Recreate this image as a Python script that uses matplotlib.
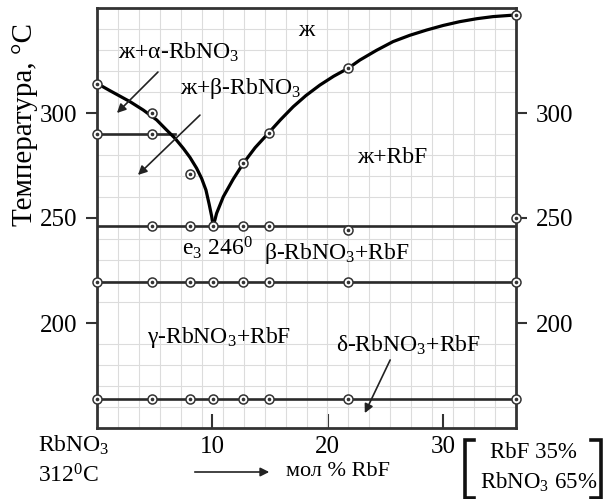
import numpy as np
import matplotlib
matplotlib.use("Agg")
import matplotlib.pyplot as plt
from matplotlib.ticker import MultipleLocator

plt.rcParams['font.family'] = ['Liberation Serif', 'DejaVu Serif']
plt.rcParams['mathtext.fontset'] = 'custom'
plt.rcParams['mathtext.rm'] = 'Liberation Serif'
plt.rcParams['mathtext.it'] = 'Liberation Serif'
plt.rcParams['mathtext.default'] = 'rm'

# liquidus curves (mol % RbF, temperature)
left_liq_x = [0, 1.13, 2.86, 4.01, 5.17, 6.03, 6.75, 7.47, 8.05, 8.63, 9.06, 9.44, 9.72, 9.93, 10.07]
left_liq_y = [314.1, 310.6, 305.4, 301.4, 296.7, 291.9, 288.0, 283.2, 278.9, 273.7, 268.9, 263.3, 256.5, 250.9, 246.0]
right_liq_x = [10.07, 10.36, 10.94, 11.8, 12.67, 13.7, 14.83, 15.9, 17.0, 18.1, 19.31, 20.5, 21.76, 22.77, 24.2,
               25.65, 27.1, 28.55, 30.0, 31.43, 32.9, 34.31, 36.3]
right_liq_y = [246.0, 252.2, 260.1, 268.5, 276.0, 283.5, 290.3, 296.8, 303.0, 308.3, 313.3, 317.5, 321.3, 325.2, 329.8,
               334.0, 337.0, 339.5, 341.7, 343.5, 344.9, 345.9, 346.7]

# experimental points
comps = [0, 4.8, 8.1, 10.07, 12.67, 14.9, 21.76, 36.3]
liq_pts_x = [0, 4.8, 8.1, 10.07, 12.67, 14.9, 21.76, 36.3]
liq_pts_y = [314, 300.2, 270.8, 246, 276, 290.3, 321.3, 346.7]
t_beta = 290.0                 # alpha -> beta transition
beta_x = [0, 4.8, 6.75]
beta_pts = [0, 4.8]
t_eut = 246.0                  # eutectic
eut_pts_x = [4.8, 8.1, 12.67, 14.9, 21.76, 36.3]
eut_pts_y = [246, 246, 246, 246, 244.3, 250]
t_gamma = 219.5                # beta -> gamma
t_delta = 163.8                # gamma -> delta

XMAX = 36.3
dark = '#2a2a2a'

fig = plt.figure(figsize=(6.06, 4.99), dpi=100)
W, H = 606, 499
ax = fig.add_axes([97 / W, 1 - 428 / H, (516 - 97) / W, (428 - 8) / H])
ax.set_xlim(0, XMAX)
ax.set_ylim(150, 350)

# grid
ax.set_xticks(np.linspace(0, XMAX, 21), minor=True)
ax.yaxis.set_minor_locator(MultipleLocator(10))
ax.grid(which='minor', color='#dcdcdc', lw=0.8, zorder=0)
ax.tick_params(which='minor', length=0)

for s in ax.spines.values():
    s.set_linewidth(2.0)
    s.set_color('#333333')

# horizontal lines
ax.plot(beta_x, [t_beta] * len(beta_x), color=dark, lw=1.9, zorder=2)
ax.plot([0, XMAX], [t_eut, t_eut], color=dark, lw=1.9, zorder=2)
ax.plot([0, XMAX], [t_gamma, t_gamma], color=dark, lw=1.9, zorder=2)
ax.plot([0, XMAX], [t_delta, t_delta], color=dark, lw=1.9, zorder=2)

# liquidus
ax.plot(left_liq_x, left_liq_y, color='black', lw=2.3, zorder=3, solid_capstyle='round', solid_joinstyle='round')
ax.plot(right_liq_x, right_liq_y, color='black', lw=2.3, zorder=3, solid_capstyle='round', solid_joinstyle='round')


def pts(xs, ys):
    ax.plot(xs, ys, 'o', ms=6.5, mfc='white', mec='#333333', mew=1.1, zorder=5, clip_on=False)
    ax.plot(xs, ys, 'o', ms=1.6, color='#333333', zorder=6, clip_on=False)


pts(liq_pts_x, liq_pts_y)
pts(beta_pts, [t_beta] * len(beta_pts))
pts(eut_pts_x, eut_pts_y)
pts(comps, [t_gamma] * len(comps))
pts(comps, [t_delta] * len(comps))

# ticks
ax.set_xticks([10, 20, 30])
ax.set_xticklabels(['10', '20', '30'])
ax.set_yticks([200, 250, 300])
ax.tick_params(axis='x', which='major', direction='in', length=10, width=1.5, pad=6,
               labelsize=18, color='#333333')
ax.tick_params(axis='y', which='major', direction='out', length=8, width=1.5, pad=6,
               labelsize=18, left=True, right=True, labelleft=True, labelright=True,
               color='#333333')

fs = 17
ax.text(18.1, 339.5, 'ж', fontsize=fs, ha='center', va='center')
ax.text(7.1, 329, 'ж+α-RbNO$_3$', fontsize=fs, ha='center', va='center')
ax.text(12.4, 311.9, 'ж+β-RbNO$_3$', fontsize=fs, ha='center', va='center')
ax.text(25.6, 279, 'ж+RbF', fontsize=fs, ha='center', va='center')
ax.text(7.36, 235.7, 'e$_3$ 246$^0$', fontsize=fs, ha='left', va='center')
ax.text(20.8, 233.3, 'β-RbNO$_3$+RbF', fontsize=fs, ha='center', va='center')
ax.text(10.56, 192.9, 'γ-RbNO$_3$+RbF', fontsize=fs, ha='center', va='center')
ax.text(27.0, 189.5, 'δ-RbNO$_3$+RbF', fontsize=fs, ha='center', va='center')

arrow = dict(arrowstyle='-|>', lw=1.2, color='#222222', mutation_scale=13,
             shrinkA=0, shrinkB=0)
ax.annotate('', xy=(1.73, 300), xytext=(5.28, 319.5), arrowprops=arrow)
ax.annotate('', xy=(3.55, 270.5), xytext=(8.92, 299), arrowprops=arrow)
ax.annotate('', xy=(23.2, 157.1), xytext=(25.4, 182.4), arrowprops=arrow)

# outside labels (figure pixel positions)
def ftext(x, y, s, **kw):
    fig.text(x / W, 1 - y / H, s, **kw)


ftext(25, 125, 'Температура, °C', fontsize=21, rotation=90, ha='center', va='center')
ftext(38, 445, 'RbNO$_3$', fontsize=fs, ha='left', va='center')
ftext(38, 476, '312$^0$C', fontsize=fs, ha='left', va='center')
ftext(286, 472, 'мол % RbF', fontsize=16, ha='left', va='center')
fig.add_artist(matplotlib.patches.FancyArrowPatch(
    (192 / W, 1 - 472 / H), (272 / W, 1 - 472 / H), transform=fig.transFigure,
    arrowstyle='-|>', mutation_scale=13, lw=1.2, color='#222222'))
ftext(533, 453, 'RbF 35%', fontsize=16.5, ha='center', va='center')
ftext(539, 482, 'RbNO$_3$ 65%', fontsize=16.5, ha='center', va='center')

# brackets
for xs in ([474, 465, 465, 474], [591, 601, 601, 591]):
    fig.add_artist(matplotlib.lines.Line2D(
        [x / W for x in xs], [1 - 440 / H, 1 - 440 / H, 1 - 498 / H, 1 - 498 / H],
        transform=fig.transFigure, color='#111111', lw=2.6, solid_joinstyle='miter'))

fig.savefig('out.png', dpi=100)
